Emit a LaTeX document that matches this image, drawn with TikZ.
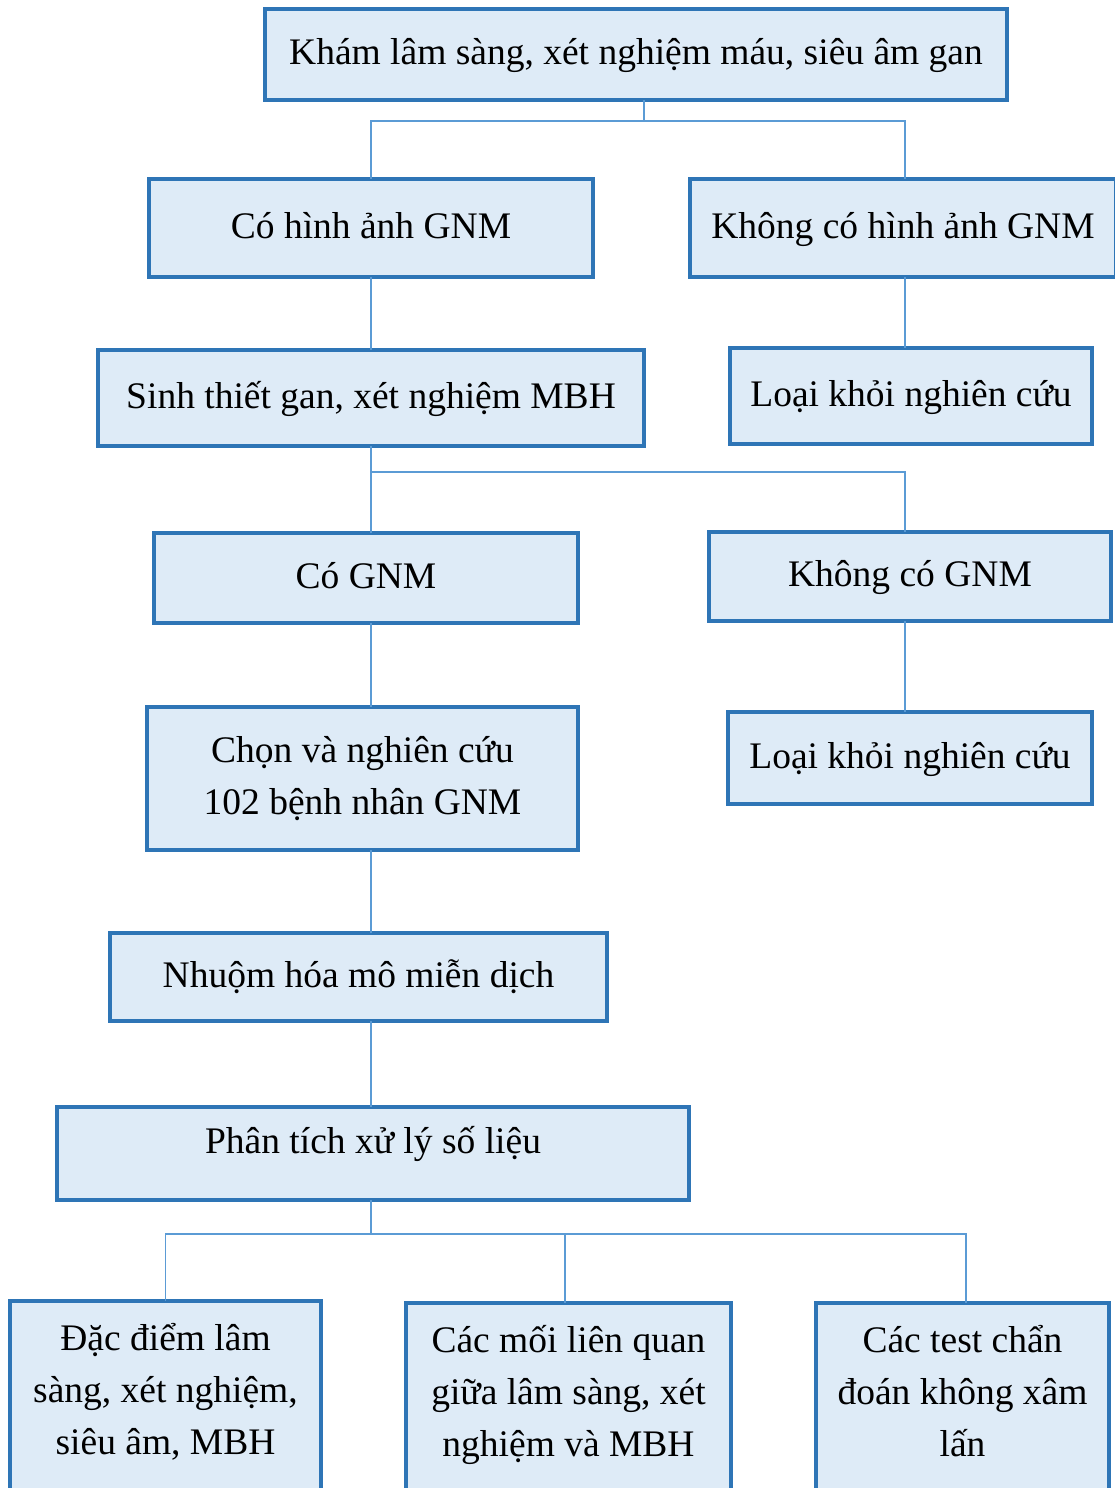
\documentclass[tikz,border=0pt]{standalone}
\usepackage{fontspec}
\setmainfont{Liberation Serif}
\usetikzlibrary{positioning}
\definecolor{boxline}{HTML}{2E75B6}
\definecolor{boxfill}{HTML}{DEEBF7}
\definecolor{linkline}{HTML}{5B9BD5}

\begin{document}
\begin{tikzpicture}[x=1pt,y=-1pt,
  box/.style={draw=boxline, fill=boxfill, line width=3.5pt, rectangle, outer sep=0pt, inner sep=0pt, align=center, font=\fontsize{37.5}{52}\selectfont},
  one/.style={box, text height=27pt, text depth=7pt},
  low/.style={box, anchor=north, inner ysep=22pt, text depth=260pt},
  link/.style={draw=linkline, line width=1.2pt}]
  \path[use as bounding box] (0,0) rectangle (1115,1488);
  \clip (0,0) rectangle (1115,1488);

  \node (KL) [one, minimum width=742, minimum height=91] at (636,54.5) {Khám lâm sàng, xét nghiệm máu, siêu âm gan};
  \node (CH) [one, minimum width=444, minimum height=98] at (371,228) {Có hình ảnh GNM};
  \node (KH) [one, minimum width=426, minimum height=98] at (903,228) {Không có hình ảnh GNM};
  \node (ST) [one, minimum width=546, minimum height=96] at (371,398) {Sinh thiết gan, xét nghiệm MBH};
  \node (L1) [one, minimum width=362, minimum height=96] at (911,396) {Loại khỏi nghiên cứu};
  \node (CG) [one, minimum width=424, minimum height=90] at (366,578) {Có GNM};
  \node (KG) [one, minimum width=402, minimum height=89] at (910,576.5) {Không có GNM};
  \node (CN) [box, minimum width=431, minimum height=143] at (362.5,778.5) {Chọn và nghiên cứu\\102 bệnh nhân GNM};
  \node (L2) [one, minimum width=364, minimum height=92] at (910,758) {Loại khỏi nghiên cứu};
  \node (NH) [one, minimum width=497, minimum height=88] at (358.5,977) {Nhuộm hóa mô miễn dịch};
  \node (PT) [one, minimum width=632, minimum height=93, text depth=27pt] at (373,1153.5) {Phân tích xử lý số liệu};
  \node (DD) [low, minimum width=311] at (165.5,1301) {Đặc điểm lâm\\sàng, xét nghiệm,\\siêu âm, MBH};
  \node (CM) [low, minimum width=325] at (568.5,1303) {Các mối liên quan\\giữa lâm sàng, xét\\nghiệm và MBH};
  \node (CT) [low, minimum width=293] at (962.5,1303) {Các test chẩn\\đoán không xâm\\lấn};

  \coordinate (J1) at (644,121);
  \coordinate (J2) at (371,472);
  \coordinate (J3) at (371,1234);
  \coordinate (RC) at (905,0);
  \coordinate (CMtop) at ([xshift=-3.5pt]CM.north);

  \draw[link] ([xshift=8pt]KL.south) -- (J1);
  \draw[link] (J1) -| (CH.north);
  \draw[link] (J1) -| (RC |- KH.north);
  \path[link] (CH) edge (ST)
              (RC |- KH.south) edge (RC |- L1.north)
              (ST.south) edge (ST.south |- CG.north)
              (CG.south -| ST) edge (CN.north -| ST)
              (RC |- KG.south) edge (RC |- L2.north)
              (CN.south -| ST) edge (NH.north -| ST)
              (NH.south -| ST) edge (PT.north -| ST)
              (PT.south -| ST) edge (J3);
  \draw[link] (J2) -| (RC |- KG.north);
  \draw[link] (J3) -| (DD.north);
  \draw[link] (J3) -| ([xshift=3.5pt]CT.north);
  \draw[link] (J3 -| CMtop) -- (CMtop);
\end{tikzpicture}
\end{document}
